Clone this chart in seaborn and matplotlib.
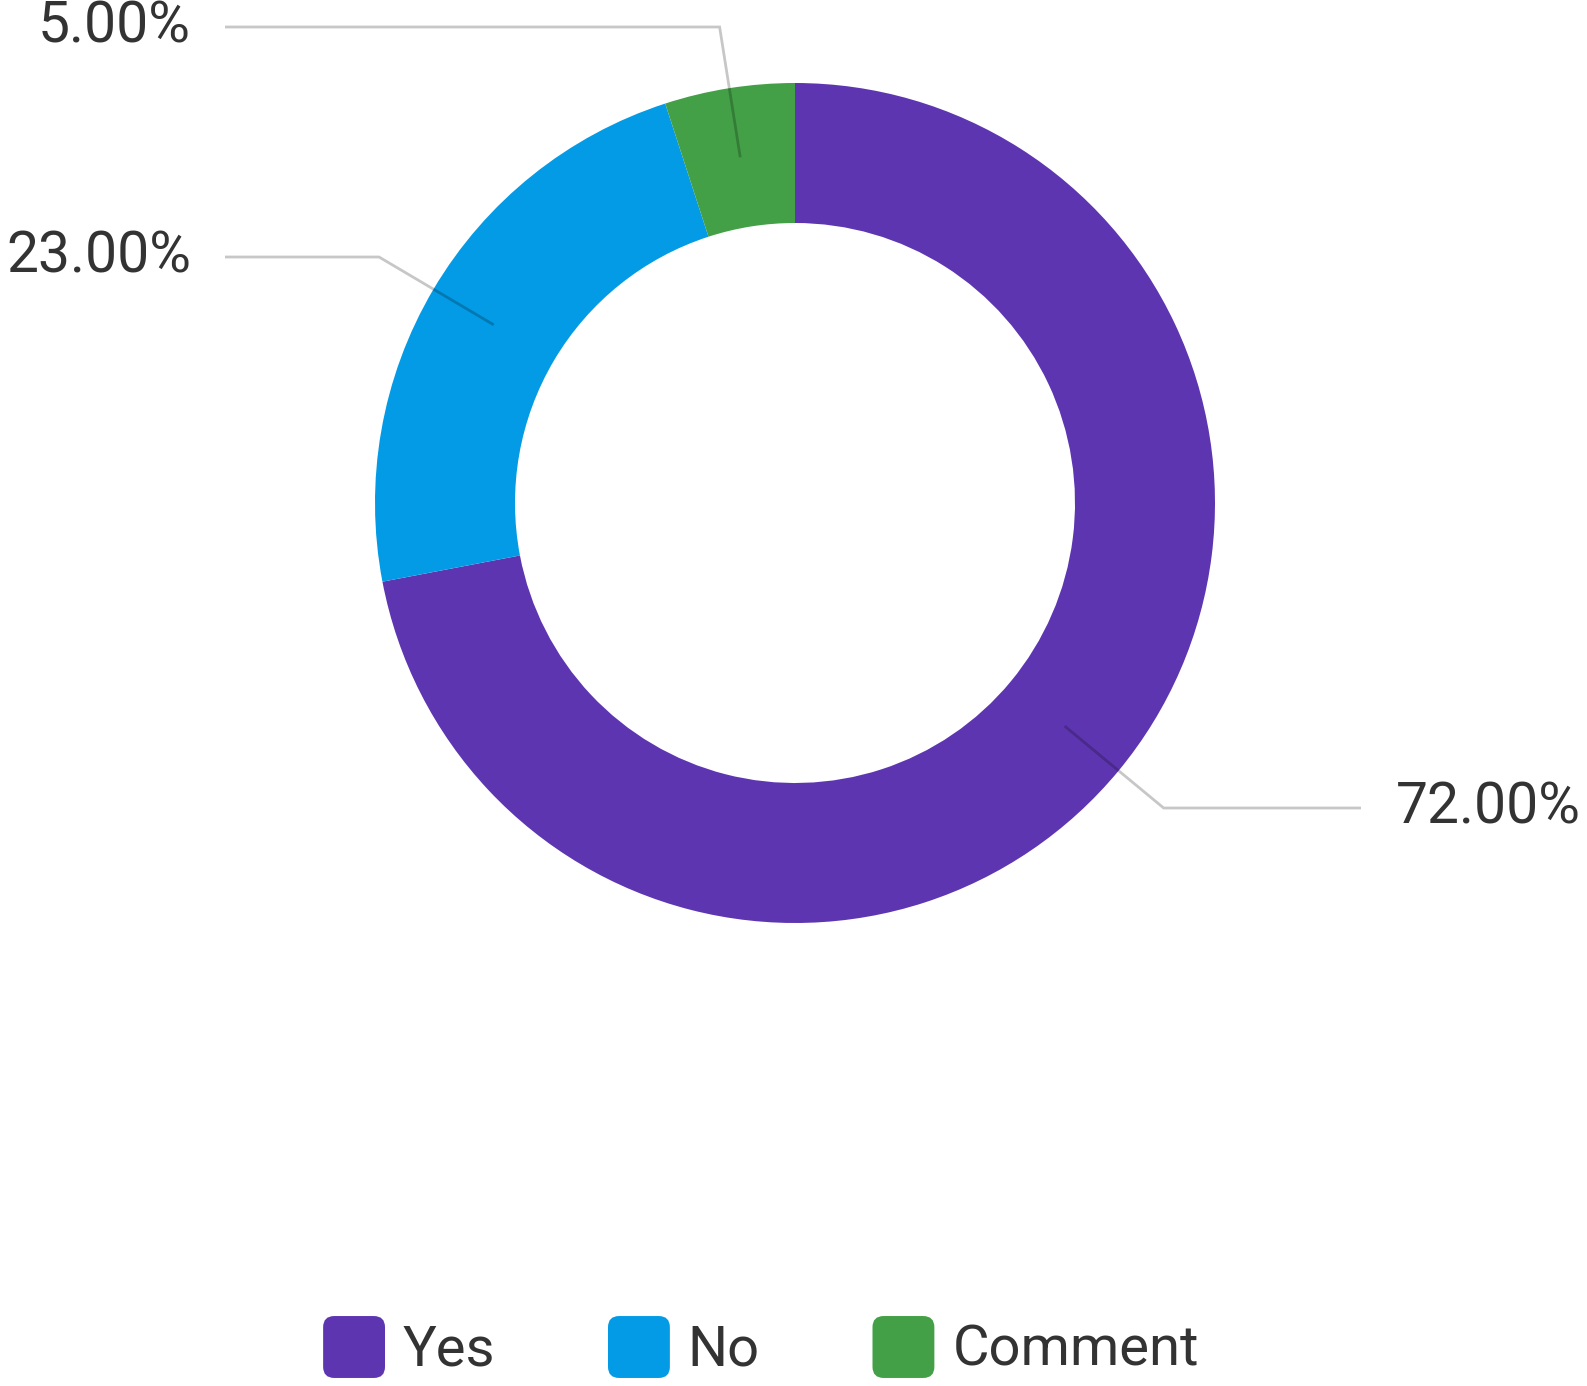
import numpy as np
import matplotlib
matplotlib.use("Agg")
import matplotlib.pyplot as plt
import seaborn as sns
from matplotlib.patches import FancyBboxPatch, Patch
from matplotlib.legend_handler import HandlerPatch

categories = ["Yes", "No", "Comment"]
values = [72.0, 23.0, 5.0]
colors = ["#5E35B1", "#039BE5", "#43A047"]

sns.set_theme(style="white")
plt.rcParams['font.family'] = ['Roboto', 'DejaVu Sans']

W, H = 1587, 1386
fig = plt.figure(figsize=(W / 100, H / 100), dpi=100)
ax = fig.add_axes([0, 0, 1, 1])
ax.set_xlim(0, W)
ax.set_ylim(0, H)
ax.axis("off")

cx, cy = 795, H - 503
R_out, R_in = 420, 280
wedges, _ = ax.pie(values, colors=colors, startangle=90, counterclock=False,
                   radius=R_out, center=(cx, cy),
                   wedgeprops=dict(width=R_out - R_in, linewidth=0))
ax.set_xlim(0, W)
ax.set_ylim(0, H)

label_y = {"Yes": H - 808, "No": H - 257, "Comment": H - 27}
r_mid = (R_out + R_in) / 2
for w, cat, v in zip(wedges, categories, values):
    ang = np.deg2rad((w.theta1 + w.theta2) / 2)
    ax_, ay_ = cx + r_mid * np.cos(ang), cy + r_mid * np.sin(ang)
    ly = label_y[cat]
    d = (ly - ay_) / np.sin(ang)
    ex = ax_ + d * np.cos(ang)
    right = np.cos(ang) > 0
    endx = 1361 if right else 225
    ax.plot([ax_, ex, endx], [ay_, ly, ly], color="black", alpha=0.22, lw=2.0,
            solid_capstyle="butt", solid_joinstyle="miter")
    tx = 1396 if right else 191
    ax.text(tx, ly, f"{v:.2f}%", ha="left" if right else "right", va="center",
            fontsize=41, color="#333333")


class RoundHandler(HandlerPatch):
    def create_artists(self, legend, orig_handle, xdescent, ydescent, width, height, fontsize, trans):
        p = FancyBboxPatch((-xdescent, -ydescent), width, height,
                           boxstyle="round,pad=0,rounding_size=%f" % (width * 0.18),
                           facecolor=orig_handle.get_facecolor(), edgecolor="none",
                           transform=trans)
        return [p]


handles = [Patch(facecolor=c) for c in colors]
fs = 40.5
leg = ax.legend(handles, categories, handler_map={Patch: RoundHandler()},
                loc="center", bbox_to_anchor=(761, H - 1347),
                bbox_transform=ax.transData, ncol=3, frameon=False,
                fontsize=fs, handlelength=1.10, handleheight=1.317,
                handletextpad=0.32, columnspacing=2.0, borderpad=0)
for t in leg.get_texts():
    t.set_color("#333333")

fig.savefig("out.png", dpi=100, facecolor="white")
